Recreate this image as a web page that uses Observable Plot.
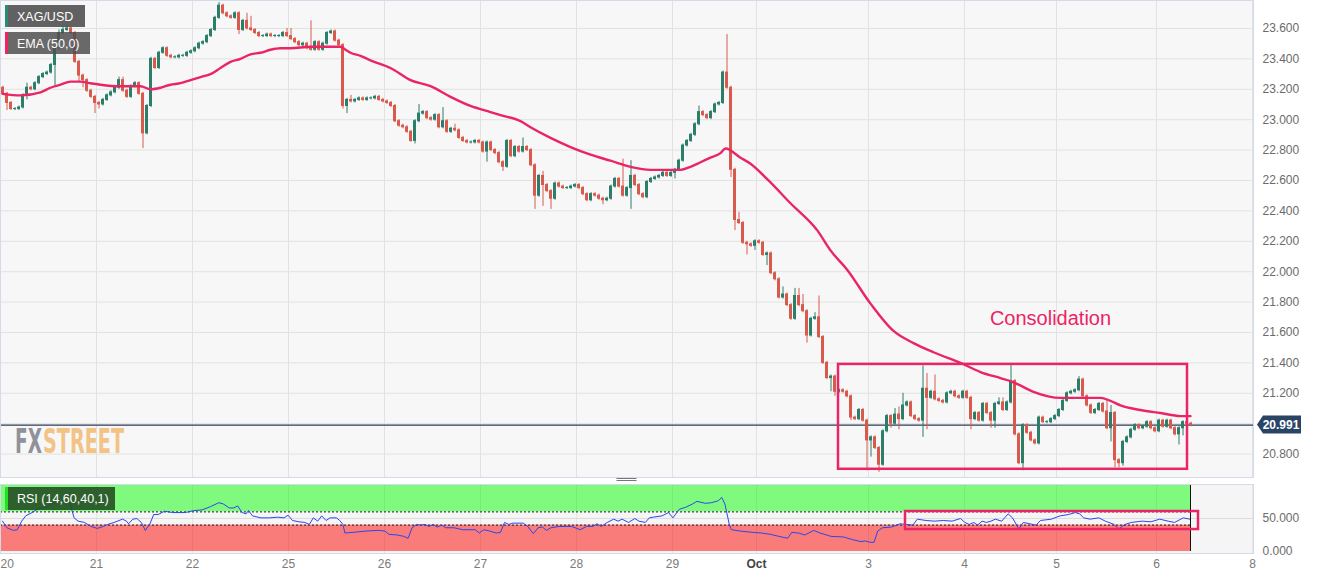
<!DOCTYPE html>
<html><head><meta charset="utf-8">
<style>
html,body{margin:0;padding:0;background:#fff;}
#wrap{width:1319px;height:578px;position:relative;overflow:hidden;}
#wrap svg{display:block;}
</style>
<script src="https://cdn.jsdelivr.net/npm/d3@7"></script>
<script src="https://cdn.jsdelivr.net/npm/@observablehq/plot@0.6"></script>
</head><body><div id="wrap"></div>
<script>
// ---------------- DATA ----------------
const symbol = "XAG/USD";
const emaLabel = "EMA (50,0)";
const rsiLabel = "RSI (14,60,40,1)";
const dayTicks = [-0.5, 23.5, 47.5, 71.5, 95.5, 119.5, 143.5, 167.5, 188.5, 216.5, 240.5, 263.5, 288.5, 312.5];
const dayLabels = ["20","21","22","25","26","27","28","29","Oct","3","4","5","6","8"];
const priceTicks = [20.8, 21.0, 21.2, 21.4, 21.6, 21.8, 22.0, 22.2, 22.4, 22.6, 22.8, 23.0, 23.2, 23.4, 23.6];
const rsiTicks = [0, 50];
const lastPrice = 20.991;
const firstOpen = 23.21;
// hourly closes
const closes = [
23.17,23.11,23.07,23.07,23.08,23.16,23.21,23.20,23.24,23.28,23.30,23.31,
23.36,23.47,23.57,23.59,23.60,23.57,23.38,23.29,23.26,23.19,23.15,23.11,
23.10,23.13,23.16,23.18,23.21,23.26,23.19,23.15,23.22,23.24,23.17,22.91,
23.09,23.40,23.34,23.44,23.47,23.42,23.41,23.41,23.42,23.42,23.44,23.45,
23.47,23.50,23.51,23.55,23.59,23.67,23.75,23.70,23.68,23.67,23.70,23.59,
23.65,23.60,23.59,23.57,23.55,23.55,23.56,23.55,23.55,23.55,23.57,23.55,
23.53,23.51,23.49,23.50,23.47,23.46,23.51,23.46,23.50,23.57,23.58,23.52,
23.49,23.09,23.13,23.12,23.13,23.14,23.13,23.14,23.14,23.15,23.13,23.12,
23.11,23.09,22.99,22.96,22.95,22.92,22.86,22.99,23.04,23.05,23.01,23.00,
23.03,22.95,22.99,22.92,22.94,22.93,22.88,22.86,22.85,22.85,22.86,22.85,
22.79,22.85,22.80,22.78,22.72,22.69,22.86,22.76,22.82,22.79,22.82,22.80,
22.70,22.50,22.63,22.57,22.53,22.48,22.58,22.56,22.55,22.55,22.56,22.57,
22.55,22.51,22.47,22.51,22.50,22.48,22.47,22.48,22.56,22.61,22.56,22.50,
22.55,22.63,22.57,22.51,22.49,22.59,22.61,22.62,22.63,22.65,22.63,22.65,
22.67,22.73,22.83,22.86,22.90,22.97,23.05,23.03,23.01,23.05,23.10,23.11,
23.31,23.21,22.67,22.34,22.32,22.19,22.18,22.17,22.20,22.19,22.11,22.12,
21.99,21.95,21.83,21.85,21.78,21.69,21.84,21.78,21.74,21.58,21.69,21.70,
21.57,21.40,21.30,21.31,21.21,21.22,21.21,21.18,21.04,21.03,21.09,21.02,
20.89,20.91,20.84,20.73,20.95,21.05,21.00,21.06,21.03,21.12,21.14,21.05,
21.03,21.02,21.23,21.17,21.21,21.16,21.15,21.14,21.20,21.21,21.18,21.17,
21.21,21.17,21.03,21.07,21.02,21.13,21.07,21.02,21.13,21.14,21.09,21.14,
21.28,20.93,20.74,20.99,20.94,20.89,20.87,21.04,21.01,21.01,21.03,21.05,
21.09,21.15,21.20,21.21,21.22,21.29,21.18,21.12,21.07,21.09,21.13,21.08,
20.97,21.07,20.76,20.74,20.88,20.91,20.96,20.99,20.97,20.98,21.01,20.97,
20.95,21.02,20.98,21.02,20.97,20.93,20.97,21.01,21.00,20.99
];
// upper wick length above body (price)
const wickUp = [
.01,.01,.01,.01,.01,.01,.03,.01,.01,.01,.01,.01,
.01,.01,.02,.02,.02,.01,.01,.01,.01,.01,.01,.01,
.01,.01,.01,.01,.01,.02,.02,.01,.01,.01,.01,.01,
.01,.01,.01,.01,.01,.01,.01,.01,.01,.01,.01,.01,
.01,.01,.01,.01,.01,.01,.02,.01,.01,.01,.01,.01,
.01,.05,.08,.01,.01,.01,.01,.01,.01,.01,.01,.03,
.05,.01,.01,.01,.01,.18,.01,.01,.01,.01,.01,.01,
.01,.01,.01,.03,.01,.01,.01,.01,.01,.01,.01,.01,
.01,.01,.01,.01,.01,.01,.01,.01,.06,.01,.01,.01,
.01,.01,.09,.01,.01,.03,.01,.01,.01,.01,.01,.01,
.01,.01,.01,.01,.01,.01,.01,.01,.01,.01,.06,.01,
.01,.01,.01,.03,.01,.01,.01,.01,.01,.01,.01,.01,
.01,.01,.01,.01,.01,.01,.01,.01,.01,.01,.01,.18,
.01,.10,.01,.01,.01,.01,.01,.01,.01,.01,.01,.01,
.01,.01,.01,.01,.01,.01,.04,.01,.01,.01,.01,.01,
.01,.25,.01,.01,.05,.01,.01,.01,.01,.01,.01,.01,
.01,.01,.01,.05,.01,.01,.05,.05,.07,.01,.01,.03,
.14,.01,.01,.01,.01,.01,.01,.01,.01,.01,.01,.01,
.01,.01,.01,.01,.01,.01,.01,.04,.05,.08,.01,.01,
.01,.01,.15,.10,.01,.11,.01,.01,.01,.01,.01,.01,
.01,.01,.01,.01,.01,.01,.01,.01,.01,.03,.03,.01,
.11,.01,.01,.01,.01,.01,.01,.01,.01,.01,.01,.01,
.01,.01,.01,.01,.01,.02,.01,.01,.01,.01,.01,.01,
.08,.05,.01,.01,.01,.01,.01,.01,.01,.01,.01,.01,
.01,.01,.01,.01,.01,.01,.01,.01,.01,.01
];
// lower wick length below body (price)
const wickDown = [
.01,.05,.01,.01,.01,.01,.03,.01,.01,.01,.01,.01,
.01,.14,.01,.01,.01,.01,.01,.04,.05,.01,.01,.07,
.03,.01,.01,.01,.01,.01,.01,.01,.01,.01,.01,.10,
.01,.01,.01,.01,.01,.01,.01,.01,.01,.01,.01,.01,
.01,.01,.01,.01,.01,.01,.01,.01,.01,.01,.01,.03,
.01,.01,.01,.01,.01,.01,.01,.01,.01,.01,.01,.01,
.01,.01,.01,.01,.01,.01,.01,.01,.01,.01,.01,.01,
.01,.02,.05,.01,.01,.01,.01,.01,.01,.01,.01,.01,
.01,.01,.01,.01,.01,.01,.01,.02,.01,.01,.01,.01,
.01,.01,.01,.01,.01,.01,.01,.01,.01,.01,.01,.01,
.01,.07,.01,.01,.01,.03,.01,.01,.01,.01,.01,.01,
.01,.09,.01,.14,.01,.07,.01,.01,.01,.01,.01,.01,
.01,.01,.01,.01,.01,.01,.03,.01,.01,.01,.01,.01,
.01,.14,.01,.01,.01,.01,.01,.01,.01,.01,.01,.01,
.04,.01,.01,.01,.01,.01,.01,.01,.01,.01,.01,.01,
.01,.01,.05,.07,.01,.01,.07,.01,.03,.01,.01,.07,
.01,.01,.01,.01,.01,.01,.01,.01,.01,.05,.01,.01,
.01,.01,.01,.09,.03,.01,.01,.01,.02,.01,.01,.01,
.20,.11,.01,.05,.01,.01,.03,.01,.07,.01,.01,.01,
.01,.01,.11,.21,.01,.01,.01,.01,.01,.01,.01,.01,
.01,.01,.07,.01,.01,.01,.01,.05,.05,.01,.01,.01,
.01,.01,.01,.05,.01,.01,.01,.01,.01,.01,.01,.01,
.01,.01,.01,.01,.01,.01,.01,.01,.01,.01,.01,.01,
.01,.09,.05,.03,.02,.01,.01,.01,.01,.01,.01,.01,
.01,.01,.01,.01,.01,.01,.07,.05,.01,.01
];
// EMA(50)
const emaIdx = [0,4.5,9.5,12,14.5,17,19.5,22,24.5,29.5,34.5,37,39.5,42,44.5,47,49.5,52,54.5,57,59.5,62,64.5,67,69.5,72,77,82,84.5,85.75,87,89.5,92,97,102,107,112,117,122,124.5,129.5,132,137,142,147,152,157,162,167,169.5,172,174.5,177,179.5,180.75,184.5,187,191.5,197,203.75,207,211.25,217,222.75,227.75,232.75,239.5,244.5,249.5,252,253.75,257.75,264.5,269.5,274.5,277,279.5,284.5,289.5,294.5,297];
const emaVal = [23.17,23.16,23.18,23.21,23.23,23.25,23.25,23.24,23.23,23.22,23.22,23.20,23.21,23.23,23.24,23.26,23.28,23.30,23.34,23.38,23.40,23.43,23.44,23.46,23.47,23.47,23.48,23.48,23.48,23.46,23.44,23.42,23.39,23.34,23.26,23.22,23.15,23.09,23.05,23.03,22.99,22.95,22.88,22.82,22.77,22.73,22.69,22.67,22.67,22.67,22.69,22.72,22.75,22.78,22.81,22.75,22.71,22.60,22.45,22.27,22.14,22.01,21.79,21.61,21.53,21.47,21.40,21.34,21.30,21.28,21.26,21.21,21.17,21.17,21.17,21.15,21.12,21.09,21.07,21.05,21.05];
// RSI
const rsiIdx = [0,1.1,2.7,3.7,4.8,5.8,7.4,8.4,9.5,11,12.1,13.2,15.3,16.8,17.9,18.9,20.5,22.1,23.7,25.2,26.3,27.9,30,31,31.5,32.6,33.6,34.7,35.7,36.8,37.8,38.9,40.5,42.6,45.7,47.8,49.9,52,54.1,55.2,56.7,57.8,58.8,59.9,60.9,61.5,62.5,64.6,66.7,68.8,70.4,71.4,72.5,74.1,75.6,76.7,77.7,78.8,79.8,80.9,81.9,83.5,84.3,85.1,85.6,87.7,90.9,94,95.6,96.6,98.7,100.3,101.4,102.4,103.5,104.5,105.6,106.6,107.7,108.7,109.8,110.8,112.9,115,118.2,119.2,120.3,121.8,123.4,124.5,125.5,126.6,127.6,130.2,131.3,132.7,133.9,135,136,137.1,139.2,142.3,144.4,146,147.6,148.6,149.7,151.2,152.8,153.9,154.9,156.5,158.1,159.1,160.7,161.7,162.7,164.9,166.5,167.6,169.2,170.8,172.5,173.6,175.7,177.3,179,179.8,180.6,181.7,182.2,184.4,187.6,189.8,192,194.1,196.3,197.3,199,200.6,202.8,204.4,207.1,210.3,212.5,214.6,215.7,216.8,217.9,218.8,220,222.2,224.4,226,227.6,228.7,230.9,233,235.2,237.4,239.5,240.6,241.7,242.8,243.8,244.9,246,247.1,248.2,249.8,251.4,252.5,254.1,255.2,256.8,258.4,259.5,262.2,264.4,266.5,268.2,269.3,270.3,271.9,274.1,275.7,277.9,279,280.6,282.2,284.9,287.1,289.3,291.4,293,295.2,296.8];
const rsiVal = [46,36,32,33,46,54,59,63,66,67,72,74,77,74,51,46,44,38,35,38,41,44,49,46,42,49,50,44,32,41,56,56,61,59,59,62,63,68,74,72,66,66,69,59,57,62,54,51,51,52,51,55,47,45,44,41,51,46,54,47,51,51,47,41,28,29,31,32,31,26,25,23,20,36,41,40,41,38,41,37,40,36,36,33,33,28,33,31,28,29,44,41,43,43,38,27,36,37,32,36,38,38,33,38,38,42,38,44,49,46,49,44,50,46,44,51,52,54,59,51,64,67,72,76,73,74,77,82,72,41,33,31,29,28,26,23,20,29,28,25,32,28,23,22,18,15,16,14,14,31,36,37,42,41,40,49,47,46,47,46,50,44,41,44,40,46,44,46,49,46,57,51,34,44,42,40,47,49,54,56,59,57,51,49,51,46,41,34,41,44,46,45,49,46,44,51,49];
const rsiUpper = 60, rsiLower = 40;
// annotations
const consolidationBox = {x1: 209, x2: 296.25, y1: 20.70, y2: 21.39};
const consolidationText = {x: 262, y: 21.69, text: "Consolidation"};
const rsiBox = {x1: 225.75, x2: 299, y1: 33.3, y2: 60.6};
const watermarkParts = ["FX", "STREET"];

// ---------------- BUILD ----------------
const FONT = "Liberation Sans, Arial, Helvetica, sans-serif";
const UP = "#2a7e6a", DOWN = "#d85a4c", PINK = "#ea2565";
const candles = closes.map((c, i) => {
  const o = i === 0 ? firstOpen : closes[i - 1];
  return {i, o, c, h: Math.max(o, c) + wickUp[i], l: Math.min(o, c) - wickDown[i], up: c >= o};
});
const ups = candles.filter(d => d.up), downs = candles.filter(d => !d.up);
const ema = emaIdx.map((x, k) => ({x, y: emaVal[k]}));
const rsi = rsiIdx.map((x, k) => ({x, y: rsiVal[k]}));
const lastIdx = closes.length - 1;
const xDomain = [-0.5, 312.75];
const ticks = dayTicks.map((x, k) => ({x, label: dayLabels[k]}));

const W = 1319;
const mainSvg = Plot.plot({
  width: W, height: 481,
  marginLeft: 0, marginRight: 66, marginTop: 0, marginBottom: 4,
  x: {domain: xDomain, axis: null},
  y: {domain: [20.646, 23.784], axis: null},
  style: {background: "transparent", fontFamily: FONT, fontSize: "12px"},
  marks: [
    Plot.frame({fill: "#f7f7f7", stroke: null}),
    Plot.ruleY(priceTicks, {stroke: "#e2e2e2"}),
    Plot.ruleX(dayTicks, {stroke: "#e2e2e2"}),
    Plot.axisY(priceTicks, {anchor: "right", tickSize: 0, tickPadding: 9, tickFormat: d => d.toFixed(3), color: "#6b6b6b", fontSize: 12}),
    Plot.ruleY([lastPrice], {stroke: "#2b3d5a", strokeWidth: 1.2}),
    Plot.ruleX(ups, {x: "i", y1: "l", y2: "h", stroke: UP, strokeWidth: 1, dx: 0.5}),
    Plot.ruleX(downs, {x: "i", y1: "l", y2: "h", stroke: DOWN, strokeWidth: 1, dx: 0.5}),
    Plot.rect(ups, {x1: d => d.i - 0.25, x2: d => d.i + 0.5, y1: "o", y2: "c", fill: UP, insetTop: -0.5, insetBottom: -0.5}),
    Plot.rect(downs, {x1: d => d.i - 0.25, x2: d => d.i + 0.5, y1: "o", y2: "c", fill: DOWN, insetTop: -0.5, insetBottom: -0.5}),
    Plot.line(ema, {x: "x", y: "y", stroke: PINK, strokeWidth: 2.4, curve: "monotone-x"}),
    Plot.rect([consolidationBox], {x1: "x1", x2: "x2", y1: "y1", y2: "y2", fill: "none", stroke: PINK, strokeWidth: 2.5}),
    Plot.text([consolidationText], {x: "x", y: "y", text: "text", fill: PINK, fontSize: 20, fontFamily: FONT}),
    Plot.frame({stroke: "#d5dae8"})
  ]
});

const rsiSvg = Plot.plot({
  width: W, height: 97,
  marginLeft: 0, marginRight: 66, marginTop: 3, marginBottom: 25,
  x: {domain: xDomain, axis: null},
  y: {domain: [-3, 101.5], axis: null},
  style: {background: "transparent", fontFamily: FONT, fontSize: "12px"},
  marks: [
    Plot.frame({fill: "#f5f5f5", stroke: null}),
    Plot.rect([{x1: -0.5, x2: lastIdx, y1: rsiUpper, y2: 100}], {x1: "x1", x2: "x2", y1: "y1", y2: "y2", fill: "#7ffa7f"}),
    Plot.rect([{x1: -0.5, x2: lastIdx, y1: 0, y2: rsiLower}], {x1: "x1", x2: "x2", y1: "y1", y2: "y2", fill: "#f97c7a"}),
    Plot.ruleX(dayTicks, {stroke: "#000", strokeOpacity: 0.06}),
    Plot.ruleY([50], {stroke: "#dcdcdc"}),
    Plot.ruleY([rsiUpper, rsiLower], {x1: -0.5, x2: lastIdx, stroke: "#1a1a1a", strokeDasharray: "2,2", strokeWidth: 1}),
    Plot.ruleX([lastIdx], {y1: 0, y2: 100, stroke: "#111", strokeWidth: 1}),
    Plot.line(rsi, {x: "x", y: "y", stroke: "#2a46ee", strokeWidth: 1}),
    Plot.rect([rsiBox], {x1: "x1", x2: "x2", y1: "y1", y2: "y2", fill: "none", stroke: PINK, strokeWidth: 2.5}),
    Plot.axisY(rsiTicks, {anchor: "right", tickSize: 0, tickPadding: 9, tickFormat: d => d.toFixed(3), color: "#6b6b6b", fontSize: 12}),
    Plot.frame({stroke: "#d5dae8"}),
    Plot.text(ticks.slice(0, 1), {x: "x", text: "label", frameAnchor: "bottom", dy: 14, textAnchor: "start", fill: "#7a7a7a", fontSize: 12}),
    Plot.text(ticks.slice(1).filter(d => d.label !== "Oct"), {x: "x", text: "label", frameAnchor: "bottom", dy: 14, fill: "#7a7a7a", fontSize: 12}),
    Plot.text(ticks.filter(d => d.label === "Oct"), {x: "x", text: "label", frameAnchor: "bottom", dy: 14, fill: "#444", fontWeight: "bold", fontSize: 12})
  ]
});

const wrap = document.getElementById("wrap");
wrap.append(mainSvg, rsiSvg);

// ---------------- DECORATIONS ----------------
function badge(sel, x, y, w, h, stripe, bg, label) {
  const g = sel.append("g").attr("text-anchor", "start");
  g.append("rect").attr("x", x).attr("y", y).attr("width", w).attr("height", h).attr("fill", bg);
  g.append("rect").attr("x", x).attr("y", y).attr("width", 3).attr("height", h).attr("fill", stripe);
  g.append("text").attr("x", x + 12).attr("y", y + h / 2).attr("dy", "0.36em").attr("text-anchor", "start")
    .attr("fill", "#fff").attr("font-size", 12.5).attr("font-family", FONT).text(label);
}
const ms = d3.select(mainSvg);
badge(ms, 5, 5, 80, 22, "#2a8a78", "rgba(80,80,80,0.9)", symbol);
badge(ms, 5, 32, 85, 22, PINK, "rgba(80,80,80,0.85)", emaLabel);

// watermark: condensed via a horizontal scale on the group
const SX = 0.62;
const wmG = ms.append("g").attr("transform", `translate(15,453) scale(${SX},1)`).attr("text-anchor", "start");
const wmStyle = [{x: 0, len: 27, fill: "#8f919b"}, {x: 28, len: 81, fill: "#f2c385"}];
watermarkParts.forEach((t, k) => {
  wmG.append("text").attr("x", wmStyle[k].x / SX).attr("y", 0).attr("text-anchor", "start")
    .attr("font-family", "DejaVu Sans Condensed, DejaVu Sans, sans-serif").attr("font-weight", "bold")
    .attr("font-size", 34).attr("textLength", wmStyle[k].len / SX).attr("lengthAdjust", "spacingAndGlyphs")
    .attr("fill", wmStyle[k].fill).text(t);
});

// price tag
const ySc = mainSvg.scale("y"), xSc = mainSvg.scale("x");
const yt = ySc.apply(lastPrice), xr = xSc.apply(xDomain[1]);
ms.append("path")
  .attr("d", `M${xr + 4},${yt} L${xr + 10},${yt - 9} L${xr + 48},${yt - 9} L${xr + 48},${yt + 9} L${xr + 10},${yt + 9} Z`)
  .attr("fill", "#2a4466");
ms.append("text").attr("x", xr + 28).attr("y", yt).attr("dy", "0.36em").attr("text-anchor", "middle")
  .attr("fill", "#fff").attr("font-weight", "bold").attr("font-size", 12).attr("font-family", FONT)
  .text(lastPrice.toFixed(3));

// panel handle
const hx = xSc.apply(xDomain[0]) + (xr - xSc.apply(xDomain[0])) / 2;
[478.5, 480.5].forEach(y => ms.append("line").attr("x1", hx - 10).attr("x2", hx + 10).attr("y1", y).attr("y2", y).attr("stroke", "#777"));

const rs = d3.select(rsiSvg);
badge(rs, 5, 6, 110, 23, "#22e022", "rgba(38,82,38,0.92)", rsiLabel);
</script>
</body></html>
